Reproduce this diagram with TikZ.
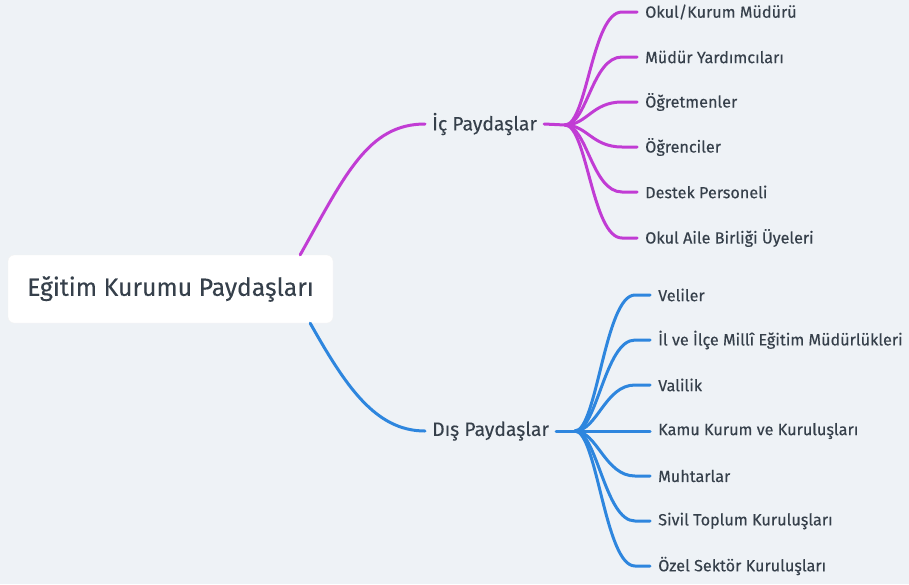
\documentclass[tikz,border=0pt]{standalone}
\usepackage{fontspec}
\setmainfont{Fira Sans}[FakeBold=0.25]
\usetikzlibrary{calc}
\definecolor{bg}{HTML}{EEF2F6}
\definecolor{txt}{HTML}{36404B}
\definecolor{pur}{HTML}{C13CD4}
\definecolor{blu}{HTML}{2E86DE}
\begin{document}
\begin{tikzpicture}[x=1pt,y=-1pt,
  leaf/.style={anchor=west, inner xsep=8pt, inner ysep=0pt, font=\fontsize{16.2}{18}\selectfont, text=txt},
  mid/.style={anchor=west, inner xsep=7pt, inner ysep=0pt, font=\fontsize{19.4}{22}\selectfont, text=txt},
  rootbox/.style={fill=white, draw=black!5, rounded corners=6pt, minimum width=325pt, minimum height=68pt, font=\fontsize{24.8}{28}\selectfont, text=txt},
  pl/.style={draw=pur, line width=3pt, line cap=round},
  bl/.style={draw=blu, line width=3pt, line cap=round},
  branchA/.style={to path={.. controls ($(\tikztostart)+(22,0)$) and ($(\tikztotarget)+(-45,0)$) .. ($(\tikztotarget)+(-15,0)$) -- (\tikztotarget)}},
  branchB/.style={to path={.. controls ($(\tikztostart)+(22,0)$) and ($(\tikztotarget)+(-45,0)$) .. ($(\tikztotarget)+(-15,0)$) -- (\tikztotarget)}}]
\fill[bg] (0,0) rectangle (909,584);
\useasboundingbox (0,0) rectangle (909,584);

\node[rootbox] (root) at (170.5,289) {Eğitim Kurumu Paydaşları};
\node[mid] (ic) at (425,124) {İç Paydaşlar};
\node[mid] (dis) at (425,431) {Dış Paydaşlar};

\coordinate (hubA) at (565,125);
\coordinate (hubB) at (575,431);
\coordinate (rA) at ($(root.north east)+(-33,0)$);
\coordinate (rB) at ($(root.south east)+(-23,0)$);

\node[leaf] (a1) at (637,12) {Okul/Kurum Müdürü};
\node[leaf] (a2) at (637,57) {Müdür Yardımcıları};
\node[leaf] (a3) at (637,102) {Öğretmenler};
\node[leaf] (a4) at (637,147) {Öğrenciler};
\node[leaf] (a5) at (637,192) {Destek Personeli};
\node[leaf] (a6) at (637,238) {Okul Aile Birliği Üyeleri};

\node[leaf] (b1) at (650,295) {Veliler};
\node[leaf] (b2) at (650,340) {İl ve İlçe Millî Eğitim Müdürlükleri};
\node[leaf] (b3) at (650,385) {Valilik};
\node[leaf] (b4) at (650,431) {Kamu Kurum ve Kuruluşları};
\node[leaf] (b5) at (650,476) {Muhtarlar};
\node[leaf] (b6) at (650,521) {Sivil Toplum Kuruluşları};
\node[leaf] (b7) at (650,566) {Özel Sektör Kuruluşları};

\draw[pl] (rA) .. controls +(45,-80) and +(-57,0) .. (ic.west);
\draw[bl] (rB) .. controls +(35,62) and +(-50,0) .. (dis.west);

\draw[pl] (ic.east) -- (hubA);
\draw[bl] (dis.east) -- (hubB);

\foreach \c in {a1,a2,a3,a4,a5,a6}
  \draw[pl] (hubA) to[branchA] (\c.west);
\foreach \c in {b1,b2,b3,b4,b5,b6,b7}
  \draw[bl] (hubB) to[branchB] (\c.west);
\end{tikzpicture}
\end{document}
